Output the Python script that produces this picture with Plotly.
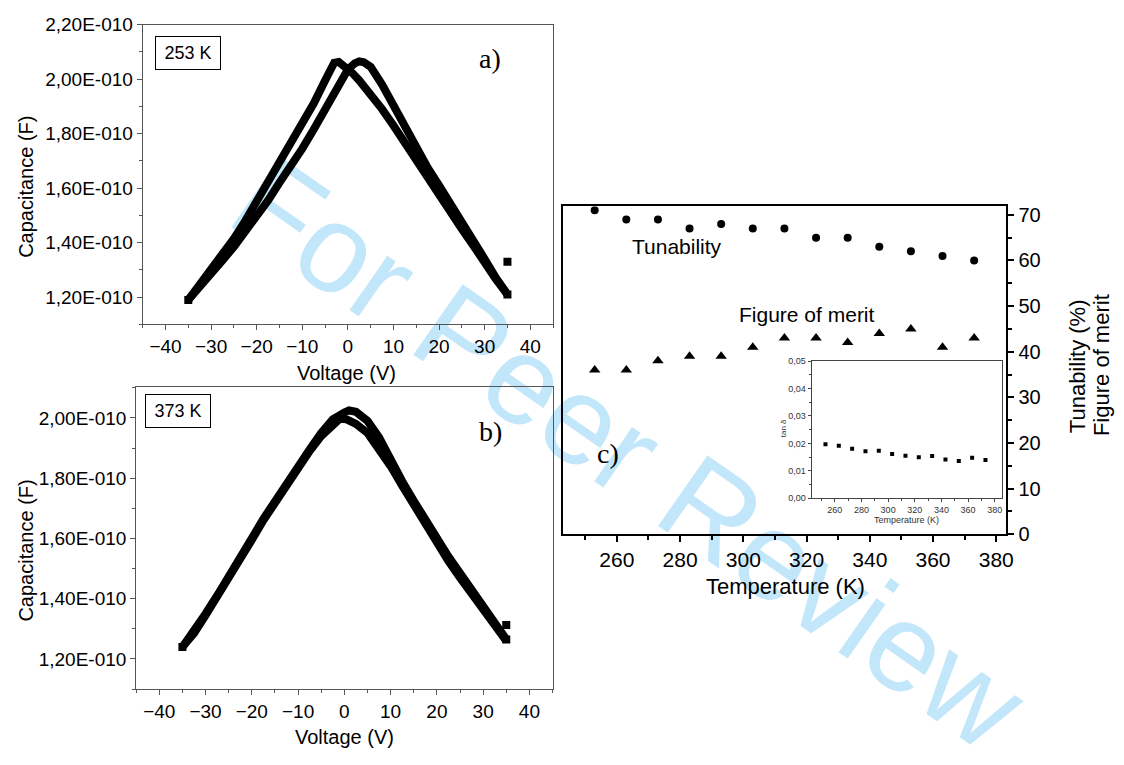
import plotly.graph_objects as go

W, H = 1124, 765
def fx(x):
    return x / W
def fy(y):
    return 1 - y / H

# ---------------- data ----------------
CAP_UNIT = 1e-10  # capacitance values below are in units of 1e-10 F

# panel a) 253 K  (two sweep branches)
volt_a1 = [-35, -32.5, -30, -27.5, -25, -22.5, -20, -17.5, -15, -12.5, -10, -7.5, -5,
           -4, -3, -2, -1, 1, 2.5, 5, 7.5, 10, 12.5, 15, 17.5, 20, 22.5, 25, 27.5, 30,
           32.5, 35]
cap_a1 = [1.19, 1.245, 1.30, 1.355, 1.415, 1.48, 1.55, 1.62, 1.69, 1.76, 1.83, 1.91, 1.995,
          2.035, 2.06, 2.063, 2.052, 2.022, 1.995, 1.945, 1.89, 1.83, 1.765, 1.70, 1.635, 1.57,
          1.51, 1.45, 1.39, 1.325, 1.265, 1.21]
volt_a2 = [-35, -32.5, -30, -27.5, -25, -22.5, -20, -17.5, -15, -12.5, -10, -7.5, -5, -2.5,
           0, 1.5, 2.5, 3.5, 5, 7.5, 10, 12.5, 15, 17.5, 20, 22.5, 25, 27.5, 30, 32.5, 35]
cap_a2 = [1.19, 1.235, 1.285, 1.335, 1.385, 1.44, 1.495, 1.555, 1.62, 1.68, 1.745, 1.815,
          1.89, 1.975, 2.035, 2.058, 2.065, 2.062, 2.045, 1.98, 1.9, 1.82, 1.745, 1.675, 1.61,
          1.545, 1.48, 1.41, 1.34, 1.27, 1.21]
extra_a_v = [35]
extra_a_c = [1.33]

# panel b) 373 K
volt_b1 = [-35, -32.5, -30, -27.5, -25, -22.5, -20, -17.5, -15, -12.5, -10, -7.5, -5, -2.5,
           0, 1, 2.5, 5, 7.5,
           10, 12.5, 15, 17.5, 20, 22.5, 25, 27.5, 30, 32.5, 35]
cap_b1 = [1.24, 1.29, 1.35, 1.41, 1.47, 1.535, 1.60, 1.665, 1.725, 1.785, 1.84, 1.895, 1.95, 1.995,
          2.018, 2.025, 2.02, 1.99, 1.935,
          1.855, 1.79, 1.725, 1.66, 1.60, 1.54, 1.485, 1.43, 1.375, 1.32, 1.265]
volt_b2 = [-35, -32.5, -30, -27.5, -25, -22.5, -20, -17.5, -15, -12.5, -10, -7.5, -5, -2.5,
           -1, 0.5, 2.5, 5,
           7.5, 10, 12.5, 15, 17.5, 20, 22.5, 25, 27.5, 30, 32.5, 35]
cap_b2 = [1.24, 1.285, 1.345, 1.405, 1.465, 1.53, 1.595, 1.66, 1.72, 1.78, 1.835, 1.89, 1.94, 1.98,
          1.997, 1.995, 1.98, 1.95,
          1.90, 1.84, 1.775, 1.71, 1.645, 1.585, 1.525, 1.47, 1.415, 1.36, 1.31, 1.26]
extra_b_v = [35]
extra_b_c = [1.313]

cap_tickvals = [1.2, 1.4, 1.6, 1.8, 2.0, 2.2]
cap_ticktext = ["1,20E-010", "1,40E-010", "1,60E-010", "1,80E-010", "2,00E-010", "2,20E-010"]
volt_ticks = [-40, -30, -20, -10, 0, 10, 20, 30, 40]

# panel c)
temperature = [253, 263, 273, 283, 293, 303, 313, 323, 333, 343, 353, 363, 373]
tunability = [71, 69, 69, 67, 68, 67, 67, 65, 65, 63, 62, 61, 60]
fom = [36, 36, 38, 39, 39, 41, 43, 43, 42, 44, 45, 41, 43]
tan_delta = [0.0197, 0.0191, 0.0180, 0.0171, 0.0173, 0.0161, 0.0155, 0.0149, 0.0154,
             0.0141, 0.0136, 0.0148, 0.0139]
temp_ticks = [260, 280, 300, 320, 340, 360, 380]
tan_tickvals = [0, 0.01, 0.02, 0.03, 0.04, 0.05]
tan_ticktext = ["0,00", "0,01", "0,02", "0,03", "0,04", "0,05"]

# ---------------- figure ----------------
SANS = "Liberation Sans, Arial, sans-serif"
SERIF = "Liberation Serif, Times New Roman, serif"
GRAY = "#555555"

fig = go.Figure()

def cv_trace(v, c, xa, ya):
    return go.Scatter(x=v, y=[val * CAP_UNIT for val in c], mode="lines",
                      line=dict(color="black", width=8),
                      xaxis=xa, yaxis=ya, showlegend=False, hoverinfo="skip")

def end_marks(v, c, xa, ya):
    return go.Scatter(x=v, y=[val * CAP_UNIT for val in c], mode="markers",
                      marker=dict(symbol="square", size=8, color="black"),
                      xaxis=xa, yaxis=ya, showlegend=False, hoverinfo="skip")

fig.add_trace(cv_trace(volt_a1, cap_a1, "x", "y"))
fig.add_trace(cv_trace(volt_a2, cap_a2, "x", "y"))
fig.add_trace(end_marks([volt_a1[0], volt_a1[-1]] + extra_a_v,
                        [cap_a1[0], cap_a1[-1]] + extra_a_c, "x", "y"))
fig.add_trace(cv_trace(volt_b1, cap_b1, "x2", "y2"))
fig.add_trace(cv_trace(volt_b2, cap_b2, "x2", "y2"))
fig.add_trace(end_marks([volt_b1[0], volt_b1[-1]] + extra_b_v,
                        [cap_b1[0], cap_b1[-1]] + extra_b_c, "x2", "y2"))

fig.add_trace(go.Scatter(x=temperature, y=tunability, mode="markers",
                         marker=dict(symbol="circle", size=8, color="black"),
                         xaxis="x3", yaxis="y3", showlegend=False))
fig.add_trace(go.Scatter(x=temperature, y=fom, mode="markers",
                         marker=dict(symbol="triangle-up", size=10, color="black"),
                         xaxis="x3", yaxis="y3", showlegend=False))
fig.add_trace(go.Scatter(x=temperature, y=tan_delta, mode="markers",
                         marker=dict(symbol="square", size=4, color="black"),
                         xaxis="x4", yaxis="y4", showlegend=False))

def cv_xaxis(domain, anchor):
    return dict(domain=domain, anchor=anchor, range=[-45, 45], tickvals=volt_ticks,
                ticks="outside", ticklen=5, tickcolor=GRAY, tickwidth=1,
                minor=dict(dtick=5, tick0=-45, ticks="outside", ticklen=3, tickcolor=GRAY),
                showline=True, linecolor=GRAY, linewidth=1, mirror=True,
                showgrid=False, zeroline=False,
                tickfont=dict(family=SANS, size=19, color="black"))

def cv_yaxis(domain, anchor, rng):
    return dict(domain=domain, anchor=anchor, range=rng,
                tickvals=[v * CAP_UNIT for v in cap_tickvals], ticktext=cap_ticktext,
                ticks="outside", ticklen=5, tickcolor=GRAY, tickwidth=1,
                minor=dict(tickvals=[v * CAP_UNIT for v in [1.1, 1.3, 1.5, 1.7, 1.9, 2.1]],
                           ticks="outside", ticklen=3, tickcolor=GRAY),
                showline=True, linecolor=GRAY, linewidth=1, mirror=True,
                showgrid=False, zeroline=False,
                tickfont=dict(family=SANS, size=19, color="black"))

fig.update_layout(
    width=W, height=H,
    margin=dict(l=0, r=0, t=0, b=0),
    paper_bgcolor="white", plot_bgcolor="rgba(0,0,0,0)",
    xaxis=cv_xaxis([fx(143.6), fx(556.5)], "y"),
    yaxis=cv_yaxis([fy(323.3), fy(15)], "x", [1.1e-10, 2.2e-10]),
    xaxis2=cv_xaxis([fx(137), fx(556)], "y2"),
    yaxis2=cv_yaxis([fy(698.3), fy(387.3)], "x2", [1.1e-10, 2.1035e-10]),
    xaxis3=dict(domain=[fx(566.6), fx(1012.7)], anchor="y3", range=[243, 383.2],
                tickvals=temp_ticks, ticks="outside", ticklen=6, tickwidth=1.5, tickcolor="black",
                minor=dict(dtick=10, tick0=250, ticks="outside", ticklen=4, tickcolor="black"),
                showline=True, linecolor="black", linewidth=2, mirror=True,
                showgrid=False, zeroline=False,
                tickfont=dict(family=SANS, size=21, color="black")),
    yaxis3=dict(domain=[fy(539), fy(201.7)], anchor="x3", side="right", range=[0, 71.9],
                tickvals=[0, 10, 20, 30, 40, 50, 60, 70], ticks="outside", ticklen=6,
                tickwidth=1.5, tickcolor="black",
                minor=dict(dtick=5, ticks="outside", ticklen=4, tickcolor="black"),
                showline=True, linecolor="black", linewidth=2, mirror=True,
                showgrid=False, zeroline=False,
                tickfont=dict(family=SANS, size=20, color="black")),
    xaxis4=dict(domain=[fx(816.7), fx(1008)], anchor="y4", range=[242.6, 385.2],
                tickvals=temp_ticks, ticks="outside", ticklen=3, tickcolor="#444",
                minor=dict(dtick=10, tick0=250, ticks="outside", ticklen=2, tickcolor="#444"),
                showline=True, linecolor="#444", linewidth=1, mirror=True,
                showgrid=False, zeroline=False,
                tickfont=dict(family=SANS, size=9, color="#333")),
    yaxis4=dict(domain=[fy(502), fy(361)], anchor="x4", range=[0, 0.05],
                tickvals=tan_tickvals, ticktext=tan_ticktext, ticks="outside", ticklen=3,
                tickcolor="#444",
                minor=dict(dtick=0.005, ticks="outside", ticklen=2, tickcolor="#444"),
                showline=True, linecolor="#444", linewidth=1, mirror=True,
                showgrid=False, zeroline=False,
                tickfont=dict(family=SANS, size=9, color="#333")),
)

# watermark, drawn beneath the data
fig.add_shape(type="line", xref="paper", yref="paper",
              x0=fx(240), y0=fy(165), x1=fx(1040), y1=fy(725),
              line=dict(width=0, color="rgba(0,0,0,0)"), layer="below",
              label=dict(text="For Peer Review", textposition="middle", textangle=35,
                         xanchor="center", yanchor="middle", padding=0,
                         font=dict(family=SANS, size=125, color="#c2e6fa")))

def note(text, x, y, size, family=SANS, angle=0, color="black", **kw):
    fig.add_annotation(text=text, x=fx(x), y=fy(y), xref="paper", yref="paper",
                       showarrow=False, textangle=angle, xanchor="center", yanchor="middle",
                       font=dict(family=family, size=size, color=color), **kw)

# axis titles
note("Capacitance (F)", 26, 182, 20, angle=-90)
note("Capacitance (F)", 26, 556, 20, angle=-90)
note("Voltage (V)", 349, 373, 20)
note("Voltage (V)", 347, 748, 20)
note("Temperature (K)", 790, 593, 22)
note("Tunability (%)", 1085, 366, 22, angle=-90)
note("Figure of merit", 1109, 365, 22, angle=-90)
note("Temperature (K)", 912, 524, 9, color="#333")
note("tan δ", 788, 430, 8, angle=-90, color="#333")

# panel labels
note("253 K", 189, 44.5, 18, bordercolor="black", borderwidth=1, borderpad=4,
     bgcolor="white", width=56, height=24)
note("373 K", 179.5, 412, 18, bordercolor="black", borderwidth=1, borderpad=4,
     bgcolor="white", width=56, height=24)
note("a)", 493, 50, 28, family=SERIF)
note("b)", 494, 433, 28, family=SERIF)
note("c)", 612, 456, 28, family=SERIF)
note("Tunability", 681, 243, 21)
note("Figure of merit", 812, 313, 21)

fig.write_html("out.html", config={"displayModeBar": False},
               post_script="document.body.style.margin='0';document.body.style.padding='0';")
